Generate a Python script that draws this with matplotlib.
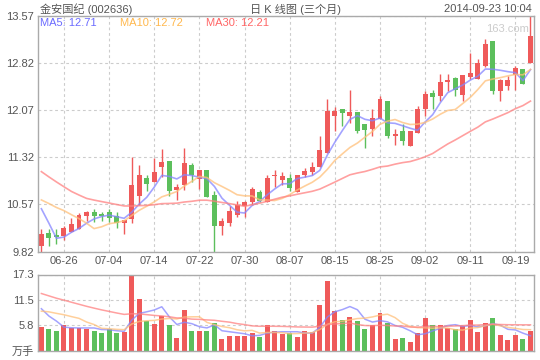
import numpy as np
import pandas as pd
import matplotlib
matplotlib.use("Agg")
import matplotlib.pyplot as plt

plt.rcParams['font.family'] = ['Liberation Sans', 'Noto Sans CJK SC', 'DejaVu Sans']

# trading days 2014-06-23 .. 2014-09-23 (09-08 was a holiday)
dates = pd.bdate_range("2014-06-23", "2014-09-23")
dates = dates[dates != pd.Timestamp("2014-09-08")]

opens = [9.91, 10.11, 10.08, 10.07, 10.13, 10.18, 10.39, 10.45, 10.42, 10.45,
         10.38, 10.28, 10.34, 10.71, 10.99, 10.92, 11.16, 11.26, 10.80, 10.87,
         11.20, 10.98, 11.11, 10.72, 10.22, 10.28, 10.40, 10.54, 10.60, 10.76,
         10.60, 11.02, 10.95, 10.99, 10.76, 11.03, 11.09, 11.17, 11.38, 11.98,
         12.08, 11.98, 12.04, 11.84, 11.77, 11.93, 12.21, 11.65, 11.73, 11.49,
         11.70, 12.08, 12.34, 12.30, 12.51, 12.58, 12.31, 12.59, 12.57, 12.77,
         13.16, 12.37, 12.45, 12.62, 12.72, 12.82]
highs = [10.18, 10.17, 10.17, 10.22, 10.36, 10.43, 10.47, 10.49, 10.45, 10.49,
         10.45, 10.32, 11.33, 11.20, 11.04, 11.30, 11.45, 11.26, 10.89, 11.46,
         11.22, 11.11, 11.11, 10.78, 10.35, 10.54, 10.62, 10.63, 10.85, 10.80,
         11.03, 11.11, 11.08, 11.06, 11.04, 11.14, 11.25, 11.65, 12.24, 12.12,
         12.09, 12.39, 12.04, 11.84, 12.09, 12.29, 12.22, 11.77, 11.85, 11.74,
         12.13, 12.38, 12.39, 12.64, 12.64, 12.60, 12.63, 12.98, 12.88, 13.20,
         13.16, 12.57, 12.61, 12.77, 12.72, 13.57]
lows = [9.82, 9.90, 9.94, 10.01, 10.13, 10.17, 10.30, 10.29, 10.31, 10.29,
        10.20, 10.10, 10.27, 10.56, 10.79, 10.92, 11.00, 10.71, 10.64, 10.80,
        10.93, 10.82, 10.68, 9.82, 10.09, 10.22, 10.37, 10.37, 10.56, 10.60,
        10.60, 10.84, 10.88, 10.78, 10.76, 11.00, 11.03, 11.17, 11.38, 11.73,
        11.81, 11.86, 11.71, 11.47, 11.65, 11.93, 11.63, 11.52, 11.52, 11.49,
        11.70, 11.98, 12.09, 12.22, 12.38, 12.30, 12.22, 12.57, 12.57, 12.75,
        12.32, 12.22, 12.39, 12.39, 12.49, 12.82]
closes = [10.10, 10.03, 10.05, 10.20, 10.25, 10.40, 10.45, 10.39, 10.39, 10.36,
          10.28, 10.32, 10.87, 11.04, 10.90, 11.09, 11.25, 10.79, 10.84, 11.23,
          11.03, 11.11, 10.68, 10.22, 10.30, 10.47, 10.56, 10.61, 10.82, 10.62,
          10.99, 11.03, 11.02, 10.83, 11.03, 11.10, 11.16, 11.43, 12.05, 12.05,
          12.03, 12.04, 11.73, 11.76, 11.94, 12.24, 11.66, 11.69, 11.57, 11.74,
          12.08, 12.32, 12.27, 12.51, 12.55, 12.39, 12.62, 12.66, 12.82, 13.12,
          12.37, 12.54, 12.55, 12.74, 12.49, 13.24]
# volume, 万手
volumes = [5.50, 5.04, 4.58, 5.88, 5.27, 5.27, 5.04, 4.58, 4.13, 5.04,
           4.13, 4.36, 17.30, 11.66, 6.87, 6.18, 8.00, 5.95, 2.99, 9.37,
           4.58, 4.58, 4.58, 6.41, 2.76, 3.44, 3.44, 3.44, 4.13, 3.21,
           5.95, 4.58, 3.90, 4.13, 3.21, 4.58, 4.36, 10.50, 15.76, 9.14,
           7.09, 7.78, 6.87, 5.04, 5.95, 8.69, 6.41, 2.76, 2.99, 2.07,
           4.13, 7.55, 5.95, 5.95, 5.27, 5.04, 5.58, 7.09, 4.36, 6.41,
           7.55, 3.67, 2.53, 3.67, 2.76, 4.58]

# estimated closes / volumes of the 29 sessions before the window (for the MAs)
pre_closes = [12.55, 12.45, 12.50, 12.50, 12.10, 12.05, 11.20, 11.10, 11.05, 11.00,
              11.00, 10.90, 10.85, 10.80, 10.75, 10.75, 10.70, 10.70, 10.68, 10.68,
              10.60, 10.68, 10.70, 10.90, 11.02, 11.18, 11.25, 10.10, 9.87]
pre_volumes = [21.0, 20.5, 19.0, 19.5, 19.0, 18.8, 17.0, 16.0, 15.5, 14.7,
               14.0, 13.0, 12.5, 12.0, 11.5, 11.5, 11.5, 11.0, 11.0, 11.0,
               6.5, 8.0, 9.0, 9.5, 9.2, 13.3, 10.3, 12.7, 6.0]

ma_windows = [5, 10, 30]
ma_labels = ["MA5: 12.71", "MA10: 12.72", "MA30: 12.21"]
price_ticks = [9.82, 10.57, 11.32, 12.07, 12.82, 13.57]
vol_ticks = [0, 5.8, 11.5, 17.3]
vol_tick_labels = ["万手", "5.8", "11.5", "17.3"]

RED = "#ef5a5a"
GREEN = "#5cbf5c"
MA_COLORS = ["#8585ff", "#ffc07a", "#ff8080"]
LABEL_COLORS = ["#6b6bff", "#ffb84d", "#ff6666"]
GRID = "#cccccc"
SPINE = "#aaaaaa"
TXT = "#555555"

n = len(closes)
x = np.arange(n)
o = np.array(opens); c = np.array(closes)
h = np.array(highs); l = np.array(lows)
v = np.array(volumes)
up = c >= o
colors = np.where(up, RED, GREEN)

all_c = pd.Series(pre_closes + closes)
all_v = pd.Series(pre_volumes + volumes)
k0 = len(pre_closes)

tick_idx = list(range(3, n, 6))
tick_lab = [dates[i].strftime("%m-%d") for i in tick_idx]

fig = plt.figure(figsize=(5.4, 3.6), dpi=100)
W, H = 540.0, 360.0
ax = fig.add_axes([38 / W, 1 - 251.5 / H, 495.5 / W, 235.8 / H])
axv = fig.add_axes([38 / W, 1 - 351 / H, 495.5 / W, 76.5 / H])

for a in (ax, axv):
    for s in a.spines.values():
        s.set_color(SPINE)
        s.set_linewidth(1)
    a.set_xlim(-0.45, n - 0.6)
    a.set_xticks(tick_idx)
    a.grid(True, color=GRID, linestyle=(0, (2.5, 2.5)), linewidth=0.8)
    a.set_axisbelow(True)
    a.tick_params(length=0, colors=TXT, labelsize=8, pad=3)

# candles
ax.vlines(x, l, h, colors=colors, linewidth=1)
body_lo = np.minimum(o, c)
body_h = np.maximum(np.abs(c - o), 0.012)
ax.bar(x, body_h, bottom=body_lo, width=0.66, color=colors, linewidth=0)
for w, col in zip(ma_windows, MA_COLORS):
    ma = all_c.rolling(w).mean().values[k0:]
    ax.plot(x, ma, color=col, linewidth=1.2, alpha=0.75)
ax.set_ylim(price_ticks[0], price_ticks[-1])
ax.set_yticks(price_ticks)
ax.set_yticklabels([f"{t:.2f}" for t in price_ticks])
ax.set_xticklabels(tick_lab)
ax.text(0.99, 0.965, "163.com", transform=ax.transAxes, ha="right", va="top",
        color="#cccccc", fontsize=8)

# volume
axv.bar(x, v, width=0.66, color=colors, linewidth=0)
for w, col in zip(ma_windows, MA_COLORS):
    ma = all_v.rolling(w).mean().values[k0:]
    axv.plot(x, ma, color=col, linewidth=1.1, alpha=0.75)
axv.set_ylim(0, vol_ticks[-1])
axv.set_yticks(vol_ticks)
axv.set_yticklabels(vol_tick_labels)
axv.set_xticklabels([])

# header
fig.text(40 / W, 1 - 9 / H, "金安国纪 (002636)", ha="left", va="center", color=TXT, fontsize=8)
fig.text(296 / W, 1 - 9 / H, "日 K 线图 (三个月)", ha="center", va="center", color=TXT, fontsize=8)
fig.text(532 / W, 1 - 9 / H, "2014-09-23 10:04", ha="right", va="center", color=TXT, fontsize=8)
for xp, lab, col in zip([40, 120, 206], ma_labels, LABEL_COLORS):
    fig.text(xp / W, 1 - 23 / H, lab, ha="left", va="center", color=col, fontsize=8)

fig.savefig("out.png", dpi=100, facecolor="white")
